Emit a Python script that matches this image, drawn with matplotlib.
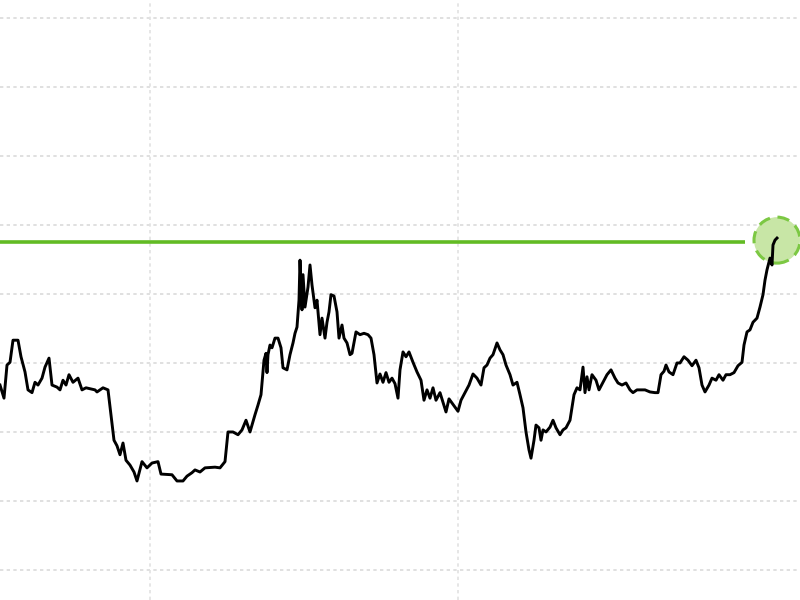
import matplotlib
matplotlib.use("Agg")
import matplotlib.pyplot as plt
from matplotlib.patches import Ellipse

# Serie (eixo x = indice de tempo, eixo y = nivel)
x_idx = [0, 4, 7, 10, 13, 18, 21, 25, 28, 32, 35, 38, 42, 45, 49, 52, 57, 60, 63, 66,
         69, 73, 78, 82, 86, 95, 97, 103, 108, 111, 114, 117, 120, 123, 126, 130, 134, 137, 142, 147,
         152, 158, 161, 172, 177, 183, 187, 192, 195, 200, 205, 215, 220, 225, 228, 233, 238, 242, 246, 250,
         255, 258, 261, 264, 266, 267, 268, 270, 272, 275, 278, 281, 283, 287, 290, 293, 295, 297, 299, 300,
         302, 303, 305, 308, 310, 312, 315, 317, 320, 322, 325, 327, 329, 331, 334, 337, 339, 342, 344, 347,
         350, 352, 356, 360, 364, 368, 371, 374, 377, 380, 383, 386, 389, 392, 395, 398, 400, 403, 406, 409,
         413, 417, 421, 424, 427, 430, 433, 436, 440, 443, 446, 449, 452, 455, 458, 461, 465, 469, 473, 477,
         481, 484, 487, 490, 493, 497, 500, 503, 506, 510, 513, 517, 520, 523, 526, 529, 531, 534, 536, 539,
         541, 543, 546, 550, 553, 556, 560, 563, 566, 570, 574, 577, 580, 583, 585, 587, 589, 592, 596, 599,
         603, 607, 611, 615, 618, 622, 626, 630, 633, 637, 645, 650, 655, 658, 661, 664, 666, 669, 673, 677,
         680, 684, 688, 692, 696, 699, 702, 705, 709, 712, 716, 719, 723, 726, 730, 734, 738, 742, 744, 747,
         750, 753, 757, 760, 763, 765, 767, 770, 772, 773, 775, 777]
valores = [26.8, 24.9, 29.7, 30.1, 33.3, 33.3, 30.9, 28.7, 26.1, 25.7, 27.2, 26.8, 27.8, 29.4, 30.7, 26.8, 26.5, 26.1, 27.5, 26.8,
           28.3, 27.2, 27.8, 26.1, 26.4, 26.1, 25.8, 26.4, 26.1, 22.5, 18.8, 18.0, 16.7, 18.4, 15.9, 15.2, 14.2, 12.9, 15.7, 14.8,
           15.5, 15.7, 13.9, 13.8, 12.9, 12.9, 13.6, 14.1, 14.5, 14.2, 14.8, 14.9, 14.8, 15.7, 20.0, 20.0, 19.6, 20.3, 21.7, 20.0,
           22.5, 23.9, 25.4, 30.4, 31.4, 28.6, 31.2, 32.6, 32.2, 33.6, 33.6, 32.2, 29.3, 29.0, 31.2, 32.9, 34.3, 35.2, 39.1, 44.9,
           37.7, 42.8, 38.1, 41.0, 44.2, 41.3, 38.0, 39.1, 34.1, 36.5, 33.6, 35.9, 37.4, 39.9, 39.7, 37.4, 33.6, 35.5, 33.6, 32.9,
           31.2, 31.4, 34.5, 34.1, 34.3, 34.1, 33.6, 31.2, 27.1, 28.4, 27.2, 28.6, 27.2, 27.8, 27.0, 24.9, 29.0, 31.6, 30.9, 31.6,
           30.1, 28.7, 27.5, 24.6, 26.1, 24.9, 26.4, 24.6, 25.7, 24.3, 22.9, 24.8, 24.2, 23.6, 23.0, 24.6, 25.7, 26.8, 28.4, 27.8,
           26.8, 29.3, 29.7, 30.7, 31.2, 32.9, 31.9, 31.2, 29.7, 28.3, 26.8, 27.2, 25.4, 23.5, 20.0, 17.4, 16.2, 18.8, 21.0, 20.6,
           18.8, 20.3, 20.0, 20.7, 21.7, 20.6, 19.6, 20.3, 20.6, 21.7, 25.4, 26.4, 26.1, 29.4, 25.7, 28.0, 26.1, 28.3, 27.5, 26.1,
           27.2, 28.3, 29.0, 27.8, 27.1, 26.8, 27.1, 26.1, 25.7, 26.1, 26.1, 25.8, 25.7, 25.7, 28.3, 28.8, 29.7, 28.7, 28.3, 30.0,
           30.0, 30.9, 30.4, 29.6, 30.4, 29.3, 26.8, 25.8, 26.8, 27.8, 27.5, 28.3, 27.5, 28.3, 28.3, 28.6, 29.6, 30.1, 32.6, 34.5,
           34.8, 35.9, 36.5, 38.1, 39.9, 42.0, 43.5, 45.2, 44.2, 47.1, 47.8, 48.1]
nivel_ref = 47.5
grade_y = [0, 10, 20, 30, 40, 50, 60, 70, 80]
grade_x = [150, 458]

verde = '#62bb24'

fig = plt.figure(figsize=(8, 6), dpi=100)
fig.patch.set_facecolor('white')
ax = fig.add_axes([0, 0, 1, 1])
ax.set_xlim(0, 800)
ax.set_ylim(-4.35, 82.6)

for g in grade_y:
    ax.axhline(g, color='#dadada', linestyle=(0, (2, 2)), linewidth=1.2, zorder=0)
for g in grade_x:
    ax.axvline(g, color='#e2e2e2', linestyle=(0, (2, 2)), linewidth=1.2, zorder=0)

# linha de referencia verde
ax.hlines(nivel_ref, 0, x_idx[-1] - 32, color=verde, linewidth=2.6, zorder=2)

# destaque no ultimo ponto
circ = Ellipse((x_idx[-1], valores[-1] - 0.3), 46, 46 / 6.9,
               facecolor='#c8e6a6', edgecolor='#7cc843', linewidth=2.2,
               linestyle=(0, (4, 2.5)), zorder=3)
ax.add_patch(circ)

# serie principal (por cima do circulo)
ax.plot(x_idx, valores, color='black', linewidth=2.1, zorder=5)

ax.set_xticks([])
ax.set_yticks([])
for s in ax.spines.values():
    s.set_visible(False)

fig.savefig("out.png", dpi=100)
